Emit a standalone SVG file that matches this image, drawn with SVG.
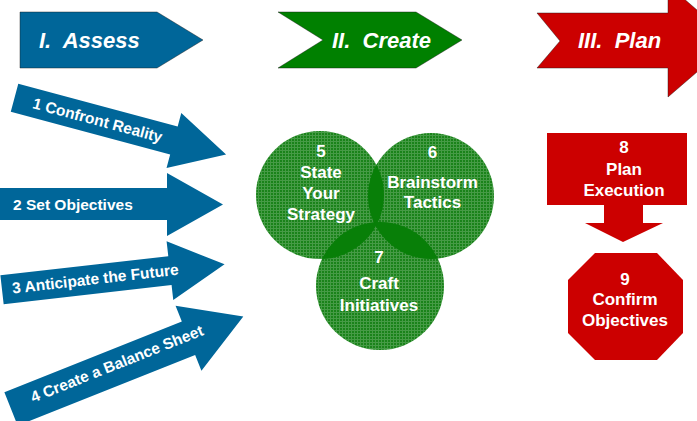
<svg xmlns="http://www.w3.org/2000/svg" width="697" height="421" viewBox="0 0 697 421">
  <style>
    .lbl { font-family: "Liberation Sans", Arial, sans-serif; font-weight: bold; fill: #ffffff; }
    .phase { font-size: 22px; font-style: italic; }
    .step { font-size: 15.5px; }
    .big { font-size: 17px; text-anchor: middle; }
    .blue { fill: #006699; }
    .green { fill: #008000; }
    .red { fill: #cc0000; }
    .edge { stroke: #1a1a1a; stroke-opacity: 0.55; stroke-width: 0.8; }
    .mesh { fill: url(#mesh); }
    .lens { fill: #087f08; }
  </style>
  <defs>
    <!-- fine woven texture used for the strategy circles -->
    <pattern id="mesh" width="3" height="3" patternUnits="userSpaceOnUse">
      <rect width="3" height="3" fill="#1a831a"/>
      <rect width="3" height="1" fill="#469b46"/>
      <rect width="1" height="3" fill="#469b46"/>
    </pattern>
    <clipPath id="clip5"><circle cx="320" cy="195" r="64"/></clipPath>
    <clipPath id="clip6"><circle cx="431" cy="196" r="63"/></clipPath>
  </defs>

  <!-- phase banners -->
  <g id="phase-assess">
    <polygon class="blue edge" points="20,12 157,12 203,40 157,68 20,68"/>
    <text class="lbl phase" x="39" y="48" xml:space="preserve">I.  Assess</text>
  </g>
  <g id="phase-create">
    <polygon class="green edge" points="278,12 416,12 462,40 416,68 278,68 323,40"/>
    <text class="lbl phase" x="332" y="48" xml:space="preserve">II.  Create</text>
  </g>
  <g id="phase-plan">
    <polygon class="red edge" points="537,13 668,13 668,-15 733,41 668,97 668,68 537,68 560,41"/>
    <text class="lbl phase" x="578" y="48" xml:space="preserve">III.  Plan</text>
  </g>

  <!-- assessment steps -->
  <g id="step-1" transform="translate(15.5,98) rotate(15)">
    <path class="blue" d="M-1,-14.5 H164 V-28.5 L218,0 L164,28.5 V14.5 H-1 Z"/>
    <text class="lbl step" x="85" y="5.5" text-anchor="middle">1 Confront Reality</text>
  </g>
  <g id="step-2">
    <path class="blue" d="M-1,188 H167 V173 L223,204.5 L167,236 V220 H-1 Z"/>
    <text class="lbl step" x="13" y="209.5">2 Set Objectives</text>
  </g>
  <g id="step-3" transform="translate(4,289.5) rotate(-6.5)">
    <path class="blue" d="M-2,-14.5 H167 V-29.5 L222,0 L167,29.5 V14.5 H-2 Z"/>
    <text class="lbl step" x="92" y="5" text-anchor="middle">3 Anticipate the Future</text>
  </g>
  <g id="step-4" transform="translate(16.6,406.7) rotate(-21.7)">
    <path class="blue" d="M-6,-18 H185 V-35 L244,0 L185,35 V18 H-6 Z"/>
    <text class="lbl step" x="109" y="2.5" text-anchor="middle">4 Create a Balance Sheet</text>
  </g>

  <!-- strategy circles -->
  <g id="step-5">
    <circle class="mesh" cx="320" cy="195" r="64"/>
  </g>
  <g id="step-6">
    <circle class="mesh" cx="431" cy="196" r="63"/>
  </g>
  <g id="step-7">
    <circle class="mesh" cx="380" cy="286" r="64"/>
  </g>
  <g id="overlaps">
    <circle class="lens" cx="431" cy="196" r="63" clip-path="url(#clip5)"/>
    <circle class="lens" cx="380" cy="286" r="64" clip-path="url(#clip5)"/>
    <circle class="lens" cx="380" cy="286" r="64" clip-path="url(#clip6)"/>
  </g>
  <g id="circle-labels">
    <text class="lbl big" x="321" y="157">5</text>
    <text class="lbl big" x="321" y="178">State</text>
    <text class="lbl big" x="321" y="199">Your</text>
    <text class="lbl big" x="321" y="220">Strategy</text>
    <text class="lbl big" x="432.5" y="158">6</text>
    <text class="lbl big" x="432.5" y="188">Brainstorm</text>
    <text class="lbl big" x="432.5" y="208">Tactics</text>
    <text class="lbl big" x="379" y="263">7</text>
    <text class="lbl big" x="379" y="289">Craft</text>
    <text class="lbl big" x="379" y="311">Initiatives</text>
  </g>

  <!-- planning steps -->
  <g id="step-8">
    <rect class="red" x="547" y="133" width="140" height="72"/>
    <text class="lbl big" x="624" y="153">8</text>
    <text class="lbl big" x="624" y="175">Plan</text>
    <text class="lbl big" x="624" y="196">Execution</text>
  </g>
  <g id="step-9">
    <polygon class="red" points="595,253 657,253 683,280 683,333 657,360 595,360 568,333 568,280"/>
    <text class="lbl big" x="625" y="285">9</text>
    <text class="lbl big" x="625" y="305">Confirm</text>
    <text class="lbl big" x="625" y="326">Objectives</text>
  </g>

  <g id="connectors">
    <path class="red" d="M604,204 H643 V223 H663 L623,242 L585,223 H604 Z"/>
  </g>
</svg>
